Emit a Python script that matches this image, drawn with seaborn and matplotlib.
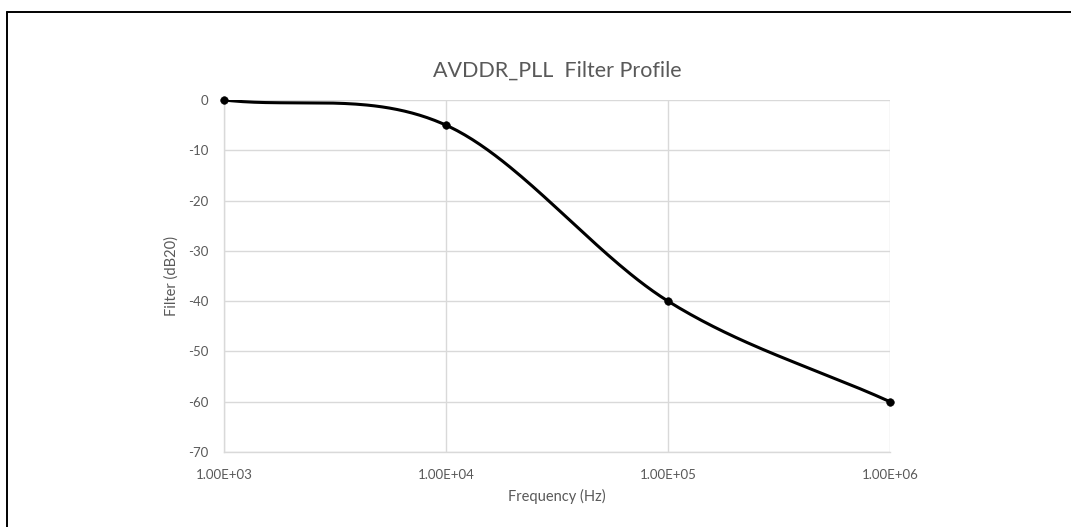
import numpy as np
import pandas as pd
import matplotlib
matplotlib.use("Agg")
import matplotlib.pyplot as plt
from matplotlib.lines import Line2D
import seaborn as sns

# Data
frequency_hz = [1.0e3, 1.0e4, 1.0e5, 1.0e6]
filter_db20 = [0.0, -5.0, -40.0, -60.0]
x_ticks = [1.0e3, 1.0e4, 1.0e5, 1.0e6]
x_tick_labels = ["1.00E+03", "1.00E+04", "1.00E+05", "1.00E+06"]
y_ticks = [0, -10, -20, -30, -40, -50, -60, -70]

sns.set_theme(style="white")
plt.rcParams["font.family"] = ["Lato", "DejaVu Sans"]

fig = plt.figure(figsize=(10.71, 5.27), dpi=100)
fig.patch.set_facecolor("white")
ax = fig.add_axes([224 / 1071, 75 / 527, 666 / 1071, 352 / 527])
ax.set_facecolor("white")

ax.set_xscale("log")
ax.set_xlim(1e3, 1e6)
ax.set_ylim(-70, 0)

# Excel-like smoothed curve (Bezier through the data points)
sx, sy = 222.0, 5.03
u = np.log10(np.array(frequency_hz)) * sx
v = np.array(filter_db20) * sy
P = np.column_stack([u, v])
n = len(P)
curve = []
for i in range(n - 1):
    p1 = P[i]
    p2 = P[i + 1]
    p0 = P[i - 1] if i > 0 else 2 * p1 - p2
    p3 = P[i + 2] if i + 2 < n else 2 * p2 - p1
    c1 = p1 + (p2 - p0) / 6.0
    c2 = p2 - (p3 - p1) / 6.0
    t = np.linspace(0, 1, 60)[:, None]
    seg = ((1 - t) ** 3) * p1 + 3 * ((1 - t) ** 2) * t * c1 + 3 * (1 - t) * t ** 2 * c2 + t ** 3 * p2
    curve.append(seg if i == 0 else seg[1:])
curve = np.vstack(curve)
smooth = pd.DataFrame({"f": 10 ** (curve[:, 0] / sx), "db": curve[:, 1] / sy})
pts = pd.DataFrame({"f": frequency_hz, "db": filter_db20})

sns.lineplot(data=smooth, x="f", y="db", sort=False, color="black", linewidth=2.2, ax=ax, zorder=3)
sc = sns.scatterplot(data=pts, x="f", y="db", color="black", s=30, edgecolor="black", ax=ax, zorder=4)
for coll in ax.collections:
    coll.set_clip_on(False)

ax.set_xticks(x_ticks)
ax.set_xticklabels(x_tick_labels)
ax.xaxis.set_minor_locator(matplotlib.ticker.NullLocator())
ax.set_yticks(y_ticks)
ax.set_yticklabels([str(t) for t in y_ticks])

grid_c = "#d9d9d9"
ax.grid(True, which="major", color=grid_c, linewidth=1.0)
ax.set_axisbelow(True)
for s in ["top", "right"]:
    ax.spines[s].set_visible(False)
for s in ["left", "bottom"]:
    ax.spines[s].set_color(grid_c)
    ax.spines[s].set_linewidth(1.0)

txt_c = "#595959"
ax.tick_params(axis="both", length=0, labelsize=9.5, colors=txt_c)
ax.tick_params(axis="x", pad=12)
ax.tick_params(axis="y", pad=11)
ax.set_xlabel("Frequency (Hz)", fontsize=10.5, color=txt_c, labelpad=6)
ax.set_ylabel("Filter (dB20)", fontsize=10.5, color=txt_c, labelpad=7)
ax.set_title("AVDDR_PLL  Filter Profile", fontsize=15.5, color=txt_c, pad=17)

# Outer frame (top and left edges)
fig.add_artist(Line2D([7 / 1071, 7 / 1071], [0, 1 - 12 / 527], transform=fig.transFigure, color="black", linewidth=1.4))
fig.add_artist(Line2D([7 / 1071, 1], [1 - 12 / 527, 1 - 12 / 527], transform=fig.transFigure, color="black", linewidth=1.4))

fig.savefig("out.png", dpi=100)
